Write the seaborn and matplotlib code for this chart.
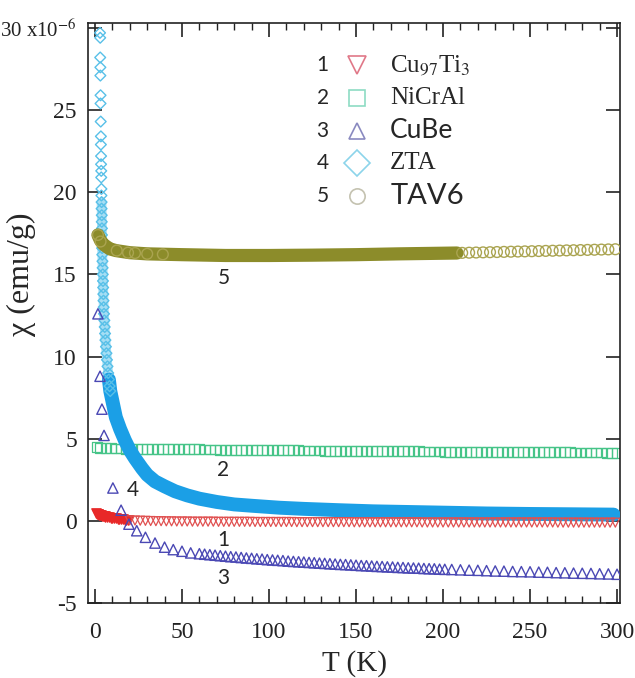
import numpy as np
import pandas as pd
import matplotlib
matplotlib.use("Agg")
import matplotlib.pyplot as plt
import seaborn as sns
from matplotlib.lines import Line2D
from matplotlib.ticker import MultipleLocator

# ---------------- data ----------------
# 1  Cu97Ti3 (red, down triangles)
T_cuti_lo = [0.5, 1.0, 1.5, 2.0, 2.5, 3.0, 3.5, 4.0, 4.5, 5.0, 5.5, 6.0, 7.0, 8.0,
             9.0, 10.0, 11.0, 12.0, 13.0, 14.0, 15.0, 16.0, 17.0, 18.0, 19.0]
chi_cuti_lo = [0.45, 0.43, 0.41, 0.39, 0.37, 0.35, 0.33, 0.32, 0.30, 0.29, 0.28, 0.26, 0.24, 0.22,
               0.20, 0.18, 0.16, 0.15, 0.13, 0.12, 0.10, 0.09, 0.07, 0.06, 0.05]
T_cuti = [20, 23, 26, 29, 32, 35, 38, 41, 44, 47, 50, 53, 56, 59, 62, 65, 68, 71, 74, 77,
          80, 83, 86, 89, 92, 95, 98, 101, 104, 107, 110, 113, 116, 119, 122, 125, 128, 131, 134, 137,
          140, 143, 146, 149, 152, 155, 158, 161, 164, 167, 170, 173, 176, 179, 182, 185, 188, 191, 194, 197,
          200, 203, 206, 209, 212, 215, 218, 221, 224, 227, 230, 233, 236, 239, 242, 245, 248, 251, 254, 257,
          260, 263, 266, 269, 272, 275, 278, 281, 284, 287, 290, 293, 296, 299]
chi_cuti = [0.03, 0.02, 0.01, 0.00, -0.01, -0.02, -0.02, -0.03, -0.03, -0.04,
            -0.04, -0.04, -0.05, -0.05, -0.05, -0.05, -0.05, -0.06, -0.06, -0.06,
            -0.06, -0.06, -0.06, -0.06, -0.07, -0.07, -0.07, -0.07, -0.07, -0.07,
            -0.07, -0.07, -0.08, -0.08, -0.08, -0.08, -0.08, -0.08, -0.08, -0.08,
            -0.08, -0.08, -0.08, -0.09, -0.09, -0.09, -0.09, -0.09, -0.09, -0.09,
            -0.09, -0.09, -0.09, -0.09, -0.09, -0.09, -0.10, -0.10, -0.10, -0.10,
            -0.10, -0.10, -0.10, -0.10, -0.10, -0.10, -0.10, -0.10, -0.10, -0.10,
            -0.10, -0.10, -0.10, -0.10, -0.10, -0.10, -0.10, -0.10, -0.10, -0.10,
            -0.10, -0.10, -0.11, -0.11, -0.11, -0.11, -0.11, -0.11, -0.11, -0.11,
            -0.11, -0.11, -0.11, -0.11]

# 2  NiCrAl (green squares)
T_nicral = [1, 3, 6, 9, 12, 15, 18, 21, 24, 27, 30, 33, 36, 39, 42, 45, 48, 51, 54, 57, 60,
            63, 66, 69, 72, 75, 78, 81, 84, 87, 90, 93, 96, 99, 102, 105, 108, 111, 114, 117, 120,
            123, 126, 129, 132, 135, 138, 141, 144, 147, 150, 153, 156, 159, 162, 165, 168, 171, 174, 177, 180,
            183, 186, 189, 192, 195, 198, 201, 204, 207, 210, 213, 216, 219, 222, 225, 228, 231, 234, 237, 240,
            243, 246, 249, 252, 255, 258, 261, 264, 267, 270, 273, 276, 279, 282, 285, 288, 291, 294, 297, 300]
chi_nicral = [4.50,
              4.45, 4.42, 4.41, 4.40, 4.40, 4.39, 4.39, 4.39, 4.38, 4.38,
              4.38, 4.37, 4.37, 4.37, 4.36, 4.36, 4.36, 4.35, 4.35, 4.35,
              4.34, 4.34, 4.34, 4.33, 4.33, 4.33, 4.32, 4.32, 4.32, 4.31,
              4.31, 4.31, 4.30, 4.30, 4.30, 4.30, 4.29, 4.29, 4.29, 4.28,
              4.28, 4.28, 4.28, 4.27, 4.27, 4.27, 4.26, 4.26, 4.26, 4.26,
              4.25, 4.25, 4.25, 4.25, 4.24, 4.24, 4.24, 4.24, 4.23, 4.23,
              4.23, 4.23, 4.22, 4.22, 4.22, 4.22, 4.21, 4.21, 4.21, 4.21,
              4.20, 4.20, 4.20, 4.20, 4.20, 4.19, 4.19, 4.19, 4.19, 4.19,
              4.18, 4.18, 4.18, 4.18, 4.18, 4.17, 4.17, 4.17, 4.17, 4.17,
              4.17, 4.16, 4.16, 4.16, 4.16, 4.16, 4.16, 4.15, 4.15, 4.15]

# 3  CuBe (blue-violet triangles)
T_cube = [1.7, 2.9, 4.0, 5.2, 10.3, 15.0, 19.5, 24.0, 29.0, 34.5, 40.0, 45.0, 50.0, 55.0, 60.0,
          63, 66, 69, 72, 75, 78, 81, 84, 87, 90, 93, 96, 99, 102, 105, 108, 111, 114, 117, 120,
          123, 126, 129, 132, 135, 138, 141, 144, 147, 150, 153, 156, 159, 162, 165, 168, 171, 174,
          177, 180, 183, 186, 189, 192, 195, 198, 201,
          205, 210, 215, 220, 225, 230, 235, 240, 245, 250, 255, 260, 265, 270, 275, 280, 285, 290, 295, 300]
chi_cube = [12.6, 8.8, 6.8, 5.2, 2.0, 0.65, -0.2, -0.6, -1.0, -1.35, -1.6, -1.75, -1.85, -1.95, -2.0,
            -2.03, -2.06, -2.09, -2.12, -2.15, -2.18, -2.20, -2.23, -2.26, -2.28, -2.31, -2.33, -2.36,
            -2.38, -2.40, -2.42, -2.45, -2.47, -2.49, -2.51, -2.53, -2.55, -2.57, -2.59, -2.61, -2.63,
            -2.65, -2.66, -2.68, -2.70, -2.72, -2.73, -2.75, -2.77, -2.78, -2.80, -2.81, -2.83, -2.84,
            -2.86, -2.87, -2.88, -2.90, -2.91, -2.92, -2.94, -2.95,
            -2.96, -2.98, -3.00, -3.01, -3.03, -3.05, -3.06, -3.08, -3.09, -3.10, -3.12, -3.13, -3.15,
            -3.16, -3.18, -3.19, -3.20, -3.22, -3.23, -3.25]

# 4  ZTA (cyan diamonds: low-T open points, then dense band)
T_zta_pts = [2.9, 3.0, 3.0, 3.1, 3.1, 3.2, 3.2, 3.3, 3.4, 3.4, 3.5, 3.5, 3.6, 3.6, 3.7, 3.7,
             3.8, 3.8, 3.9, 3.9, 4.0, 4.0, 4.1, 4.1, 4.2, 4.3, 4.4, 4.5, 4.6, 4.7, 4.8, 4.9,
             5.0, 5.2, 5.4, 5.6, 5.8, 6.0, 6.3, 6.6, 6.9, 7.2, 7.6, 8.0, 8.4, 8.8]
chi_zta_pts = [29.7, 29.4, 28.2, 27.6, 27.1, 25.9, 25.4, 24.3, 23.4, 22.9, 22.2, 21.7, 21.3, 20.9,
               20.2, 19.8, 19.4, 19.0, 18.6, 18.2, 17.8, 17.4, 17.0, 16.6, 16.2, 15.8, 15.4, 15.0,
               14.6, 14.2, 13.8, 13.4, 13.0, 12.6, 12.2, 11.8, 11.4, 11.0, 10.6, 10.2, 9.8, 9.4,
               9.0, 8.6, 8.2, 7.9]
T_zta_band = [8.0, 8.8, 10.0, 12.0, 14.4, 17.2, 20.0, 23.0, 27.0, 30.0, 34.5, 40.0, 46.0, 53.0,
              60.0, 70.0, 80.0, 90.0, 106.0, 120.0, 140.0, 160.0, 175.0, 200.0, 225.0, 250.0,
              275.0, 298.0]
chi_zta_band = [8.6, 7.9, 7.3, 6.3, 5.6, 4.9, 4.3, 3.8, 3.2, 2.8, 2.4, 2.1, 1.8, 1.55,
                1.35, 1.15, 1.0, 0.92, 0.8, 0.73, 0.65, 0.58, 0.55, 0.5, 0.45, 0.42,
                0.4, 0.38]

# 5  TAV6 (olive circles)
T_tav_band = [1.7, 3.0, 4.6, 6.5, 8.6, 12.0, 15.0, 20.0, 30.0, 50.0, 75.0, 100.0, 125.0, 150.0,
              175.0, 208.0]
chi_tav_band = [17.4, 17.1, 16.85, 16.7, 16.55, 16.45, 16.4, 16.32, 16.25, 16.2, 16.15, 16.15,
                16.17, 16.2, 16.25, 16.3]
T_tav_pts = [1.7, 3.2, 12.5, 19.0, 23.0, 30.0, 39.0,
             211, 215, 219, 223, 227, 231, 235, 239, 243, 247, 251, 255, 259, 263, 267, 271,
             275, 279, 283, 287, 291, 295, 299]
chi_tav_pts = [17.4, 17.0, 16.45, 16.32, 16.3, 16.25, 16.22,
               16.31, 16.32, 16.33, 16.34, 16.35, 16.36, 16.37, 16.38, 16.39, 16.40, 16.41,
               16.42, 16.43, 16.44, 16.45, 16.46, 16.47, 16.48, 16.49, 16.50, 16.51, 16.52, 16.53]

legend_nums = ["1", "2", "3", "4", "5"]
legend_names = ["Cu$_{97}$Ti$_{3}$", "NiCrAl", "CuBe", "ZTA", "TAV6"]
legend_is_serif = [True, True, False, True, False]

yticks = [-5, 0, 5, 10, 15, 20, 25, 30]
ytick_labels = ["-5", "0", "5", "10", "15", "20", "25", "30 x10$^{-6}$"]

# ---------------- style ----------------
sns.set_style("ticks")
plt.rcParams["font.family"] = ["Liberation Serif", "DejaVu Serif"]
plt.rcParams["mathtext.fontset"] = "stix"
SANS = ["Lato", "DejaVu Sans"]
SERIF = ["Liberation Serif", "DejaVu Serif"]

fig = plt.figure(figsize=(6.35, 6.78), dpi=100)
ax = fig.add_axes([0.1386, 0.1106, 0.8378, 0.8555])

c_red = "#e05050"
c_green = "#46c488"
c_blue = "#4a48b4"
c_cyan = "#58c0e8"
c_cyan_fill = "#a6def4"
c_band = "#1b9fe6"
c_olive = "#8c8c2a"
c_olive_pt = "#aaa450"

# 2 NiCrAl
sns.scatterplot(x=T_nicral, y=chi_nicral, marker="s", s=50, facecolor="none",
                edgecolor=c_green, linewidth=0.9, ax=ax, zorder=2)
# 4 ZTA : light textured part (dense low-T points), then solid band
sns.lineplot(x=T_zta_pts[16:], y=chi_zta_pts[16:], color=c_cyan_fill, linewidth=7, sort=False,
             estimator=None, solid_capstyle="round", solid_joinstyle="round", ax=ax, zorder=2.8)
sns.lineplot(x=T_zta_band, y=chi_zta_band, color=c_band, linewidth=10, sort=False,
             estimator=None, solid_capstyle="round", solid_joinstyle="round", ax=ax, zorder=3)
sns.scatterplot(x=T_zta_pts, y=chi_zta_pts, marker="D", s=30, facecolor="none",
                edgecolor=c_cyan, linewidth=1.0, ax=ax, zorder=3)
# 1 Cu97Ti3
sns.scatterplot(x=T_cuti_lo, y=chi_cuti_lo, marker="v", s=45, color="#e82828",
                edgecolor="#e82828", linewidth=1.0, ax=ax, zorder=4)
sns.scatterplot(x=T_cuti, y=chi_cuti, marker="v", s=42, facecolor="none",
                edgecolor=c_red, linewidth=0.9, ax=ax, zorder=4)
# 3 CuBe
sns.scatterplot(x=T_cube, y=chi_cube, marker="^", s=55, facecolor="none",
                edgecolor=c_blue, linewidth=1.0, ax=ax, zorder=5)
# 5 TAV6
sns.lineplot(x=T_tav_band, y=chi_tav_band, color=c_olive, linewidth=9.5, sort=False,
             estimator=None, solid_capstyle="round", solid_joinstyle="round", ax=ax, zorder=6)
sns.scatterplot(x=T_tav_pts, y=chi_tav_pts, marker="o", s=60, facecolor="none",
                edgecolor=c_olive_pt, linewidth=1.0, ax=ax, zorder=6)

# ---------------- axes ----------------
ax.set_xlim(-4, 301.7)
ax.set_ylim(-5, 30.3)
ax.xaxis.set_major_locator(MultipleLocator(50))
ax.xaxis.set_minor_locator(MultipleLocator(10))
ax.set_yticks(yticks)
ax.set_yticklabels(ytick_labels)
ax.tick_params(which="both", direction="in", top=True, right=True, colors="#222222")
ax.tick_params(which="major", length=10, width=1.2, labelsize=17)
ax.tick_params(which="minor", length=5, width=1.0)
ax.tick_params(axis="x", which="major", pad=14)
ax.tick_params(axis="y", which="major", pad=8)
ax.get_yticklabels()[-1].set_fontsize(15)
for sp in ax.spines.values():
    sp.set_linewidth(1.2)
    sp.set_color("#222222")
ax.set_xlabel("T (K)", fontsize=21, labelpad=5)
ax.set_ylabel("χ (emu/g)", fontsize=23)
ax.yaxis.set_label_coords(-0.098, 0.566)

# ---------------- legend (custom) ----------------
rows_y = [0.928, 0.871, 0.814, 0.759, 0.701]
leg_marks = [("v", "#e07888", 13), ("s", "#8ddcc4", 11), ("^", "#8a8ac0", 12),
             ("D", "#8cd4ea", 13), ("o", "#c4c2b0", 11)]
leg_sizes = [18, 18, 19, 18, 21]
for i in range(5):
    ax.text(0.441, rows_y[i], legend_nums[i], transform=ax.transAxes, fontsize=15,
            family=SANS, ha="center", va="center")
    m, col, ms = leg_marks[i]
    ax.add_line(Line2D([0.506], [rows_y[i]], transform=ax.transAxes, marker=m,
                       markersize=ms, markerfacecolor="none", markeredgecolor=col,
                       markeredgewidth=1.2, linestyle=""))
    ax.text(0.568, rows_y[i], legend_names[i], transform=ax.transAxes,
            fontsize=leg_sizes[i],
            family=(SERIF if legend_is_serif[i] else SANS), ha="left", va="center")

# curve labels
for lab, tx, ty in [("5", 74, 14.8), ("2", 73.6, 3.1), ("4", 22, 1.9),
                    ("1", 73.6, -1.16), ("3", 73.6, -3.5)]:
    ax.text(tx, ty, lab, fontsize=15, family=SANS, ha="center", va="center")

fig.savefig("out.png", dpi=100)
